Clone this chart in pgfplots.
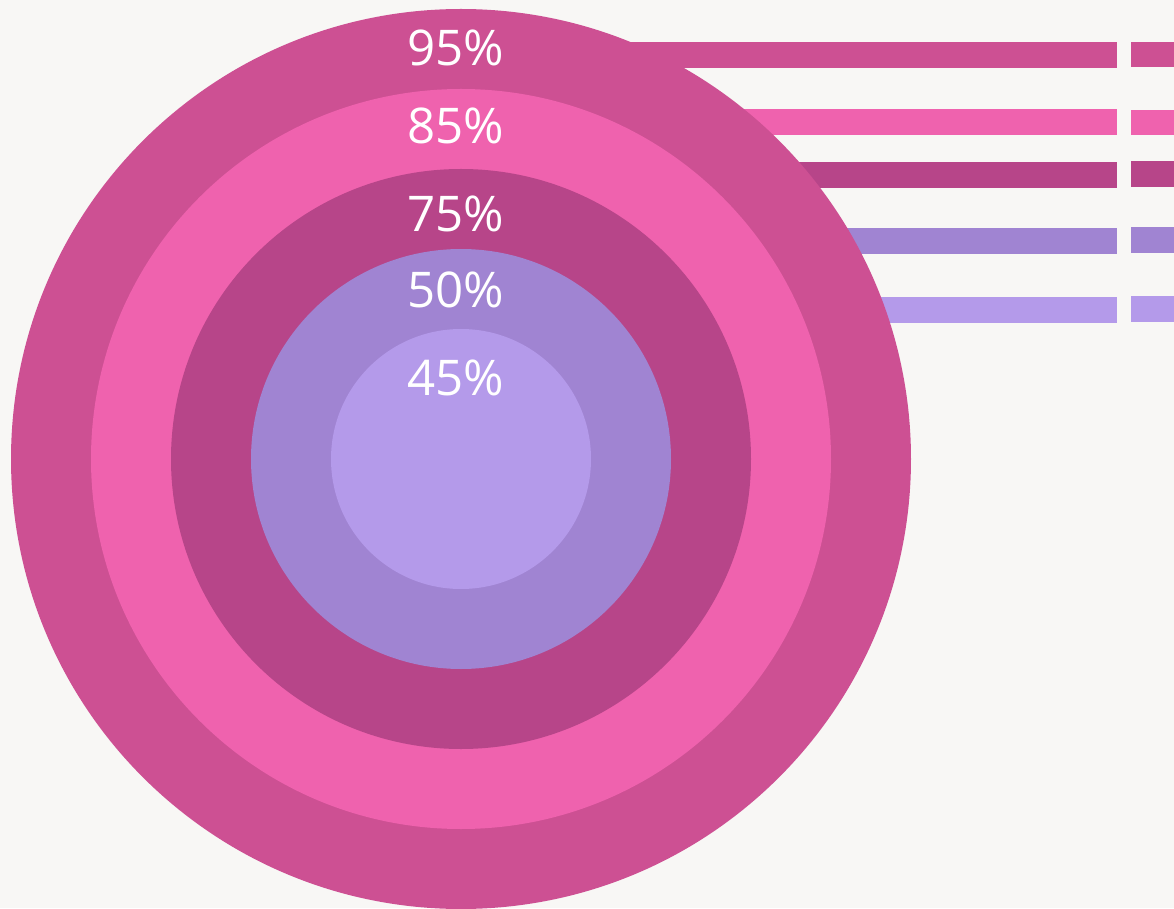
\documentclass[border=0pt]{standalone}
\usepackage{pgfplots}
\pgfplotsset{compat=1.18}
\usepackage{fontspec}
\setmainfont{Open Sans}
\definecolor{bg}{RGB}{248,247,245}
\definecolor{cA}{RGB}{205,80,147}
\definecolor{cB}{RGB}{239,98,174}
\definecolor{cC}{RGB}{183,69,137}
\definecolor{cD}{RGB}{160,132,210}
\definecolor{cE}{RGB}{180,154,234}
\begin{document}
\begin{tikzpicture}
\begin{axis}[
  width=11.74cm, height=9.08cm, scale only axis,
  xmin=0, xmax=1174, ymin=0, ymax=908,
  hide axis, clip=true,
  axis background/.style={fill=bg},
]
% bars (behind circles): y centre, half-height 13
\addplot[fill=cA, draw=none] coordinates {(461,840)(1117,840)(1117,866)(461,866)} -- cycle;
\addplot[fill=cA, draw=none] coordinates {(1131,841)(1180,841)(1180,866)(1131,866)} -- cycle;
\addplot[fill=cB, draw=none] coordinates {(461,773)(1117,773)(1117,799)(461,799)} -- cycle;
\addplot[fill=cB, draw=none] coordinates {(1131,773)(1180,773)(1180,798)(1131,798)} -- cycle;
\addplot[fill=cC, draw=none] coordinates {(461,720)(1117,720)(1117,746)(461,746)} -- cycle;
\addplot[fill=cC, draw=none] coordinates {(1131,721)(1180,721)(1180,747)(1131,747)} -- cycle;
\addplot[fill=cD, draw=none] coordinates {(461,654)(1117,654)(1117,680)(461,680)} -- cycle;
\addplot[fill=cD, draw=none] coordinates {(1131,655)(1180,655)(1180,681)(1131,681)} -- cycle;
\addplot[fill=cE, draw=none] coordinates {(461,585)(1117,585)(1117,611)(461,611)} -- cycle;
\addplot[fill=cE, draw=none] coordinates {(1131,586)(1180,586)(1180,612)(1131,612)} -- cycle;
% concentric circles
\fill[cA] (axis cs:461,449) circle[radius=450];
\fill[cB] (axis cs:461,449) circle[radius=370];
\fill[cC] (axis cs:461,449) circle[radius=290];
\fill[cD] (axis cs:461,449) circle[radius=210];
\fill[cE] (axis cs:461,449) circle[radius=130];
% labels
\begin{scope}[every node/.style={text=white, font=\fontsize{14}{16}\selectfont, inner sep=0pt}]
\node at (axis cs:456,860) {95\%};
\node at (axis cs:456,782) {85\%};
\node at (axis cs:456,694) {75\%};
\node at (axis cs:456,618) {50\%};
\node at (axis cs:456,530) {45\%};
\end{scope}
\end{axis}
\end{tikzpicture}
\end{document}
